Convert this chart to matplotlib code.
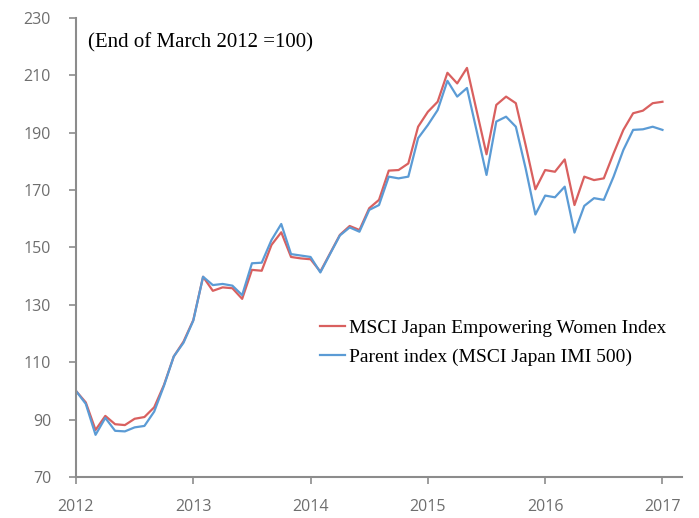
import matplotlib
matplotlib.use("Agg")
from matplotlib import pyplot as plt

# monthly index levels, end of March 2012 = 100, through March 2017
women = [100, 96, 86.4, 91.3, 88.4, 88.1, 90.3, 90.9, 94.3, 102.1,
         112, 117.2, 124.7, 139.8, 134.9, 136.1, 135.8, 132.1, 142.2, 141.9,
         150.9, 155.3, 146.7, 146.2, 145.9, 141.6, 148, 154.4, 157.5, 156.1,
         163.7, 166.6, 176.8, 177.0, 179.3, 192.1, 197.3, 200.8, 210.9, 207.2,
         212.6, 197.5, 182.5, 199.7, 202.6, 200.3, 185.7, 170.3, 177.0, 176.4,
         180.7, 164.8, 174.7, 173.5, 174.1, 182.8, 191.0, 196.8, 197.7, 200.3,
         200.8]
parent = [100, 95.5, 84.7, 90.6, 86.1, 85.9, 87.3, 87.8, 92.8, 101.8,
          112, 116.8, 124.5, 139.8, 136.9, 137.3, 136.7, 133.4, 144.5, 144.7,
          152.6, 158.2, 147.7, 147.2, 146.7, 141.3, 147.8, 154.2, 157, 155.5,
          163.1, 164.8, 174.7, 174.1, 174.7, 188.1, 192.7, 197.9, 208.1, 202.6,
          205.6, 190.5, 175.3, 193.9, 195.6, 192.1, 177.6, 161.5, 168.1, 167.5,
          171.2, 155.2, 164.5, 167.2, 166.6, 174.7, 184.0, 191.0, 191.2, 192.1,
          191.0]
years = ["2012", "2013", "2014", "2015", "2016", "2017"]
yticks = [70, 90, 110, 130, 150, 170, 190, 210, 230]

months = list(range(len(women)))
grey = "#8c8c8c"
serif = "Liberation Serif"

fig = plt.figure(figsize=(6.99, 5.18), dpi=100)
ax = fig.add_axes([76 / 699, 41 / 518, 606 / 699, 459 / 518])

ax.plot(months, women, color="#d9605f", lw=1.6, label="MSCI Japan Empowering Women Index")
ax.plot(months, parent, color="#5b9bd5", lw=1.6, label="Parent index (MSCI Japan IMI 500)")

ax.set_xlim(0, 62)
ax.set_ylim(70, 230)
ax.set_xticks([12 * i for i in range(len(years))])
ax.set_xticklabels(years)
ax.set_yticks(yticks)

for s in ["top", "right"]:
    ax.spines[s].set_visible(False)
for s in ["left", "bottom"]:
    ax.spines[s].set_color(grey)
    ax.spines[s].set_linewidth(1.5)
ax.tick_params(colors=grey, labelcolor="#6e6e6e", labelsize=11.5, length=5, width=1.2)
ax.tick_params(axis="y", pad=13)
ax.tick_params(axis="x", pad=11)
for lab in ax.get_xticklabels() + ax.get_yticklabels():
    lab.set_family("Open Sans")

ax.text(0.02, 0.945, "(End of March 2012 =100)", transform=ax.transAxes,
        fontsize=15, family=serif, va="center")

leg = ax.legend(loc="upper left", bbox_to_anchor=(0.39, 0.36), frameon=False,
                prop={"family": serif, "size": 14}, handlelength=1.3,
                handletextpad=0.2, labelspacing=0.55, borderaxespad=0)

fig.savefig("out.png", dpi=100)
